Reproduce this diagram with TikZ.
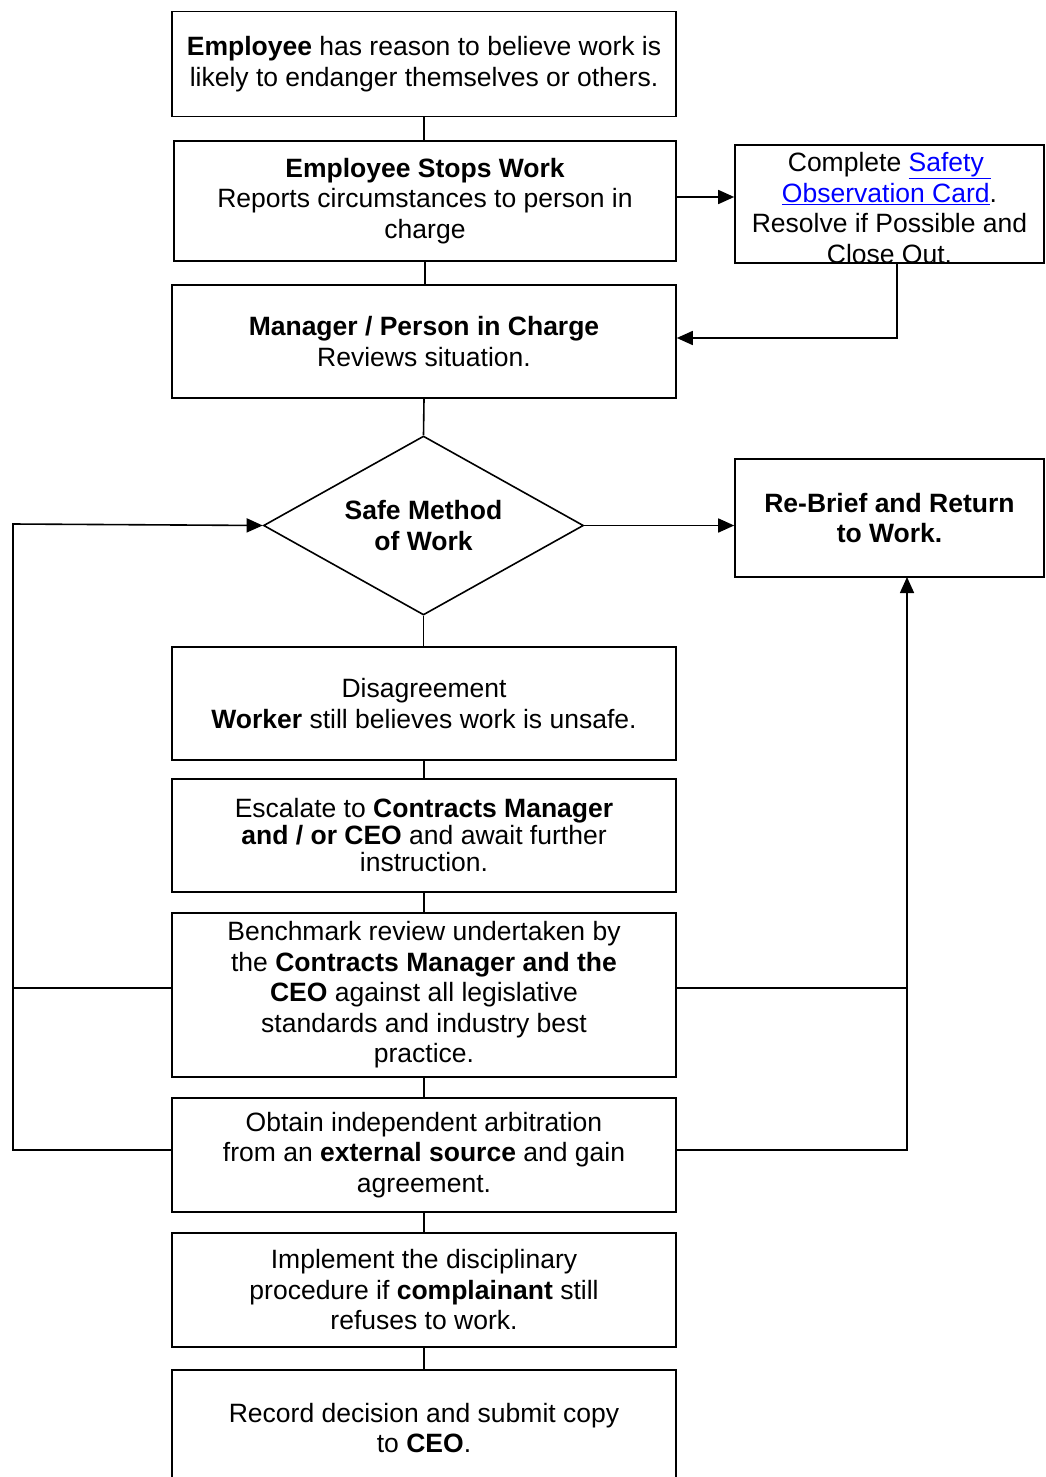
\documentclass[tikz,border=0pt]{standalone}
\usepackage{fontspec}
\setmainfont{Liberation Sans}
\usetikzlibrary{shapes.geometric,arrows.meta}
\definecolor{linkblue}{RGB}{0,0,255}
\newcommand\fs{\fontsize{26.5}{30.5}\selectfont}
\newcommand\lnk[1]{\textcolor{linkblue}{\underline{#1}}}
\begin{document}
\begin{tikzpicture}[x=1pt,y=-1pt,
  box/.style={draw, line width=1.6pt, minimum width=504pt, inner sep=0pt, align=center, font=\fs},
  ln/.style={line width=1.6pt},
  arr/.style={line width=1.6pt, -{Triangle[length=16pt,width=14pt]}}]
\clip (0,0) rectangle (1045,1477);
\fill[white] (0,0) rectangle (1045,1477);

\node[box, minimum height=105pt] (top) at (424,64)
  {\textbf{Employee} has reason to believe work is\\likely to endanger themselves or others.};
\node[box, minimum width=502pt, minimum height=120pt] (stops) at (425,201)
  {\textbf{Employee Stops Work}\\Reports circumstances to person in\\charge};
\node[box, minimum width=309pt, minimum height=118pt] (soc) at (889.5,204) {};
\node[align=center, font=\fs, inner sep=0pt] (soct) at (889.5,208)
  {Complete \lnk{Safety\ }\\\lnk{Observation Card}.\\Resolve if Possible and\\Close Out.};
\node[box, minimum height=113pt] (mgr) at (424,341.5)
  {\textbf{Manager / Person in Charge}\\Reviews situation.};
\node[draw, line width=1.6pt, diamond, aspect=1.79, minimum width=320pt, minimum height=179pt,
  inner sep=0pt, align=center, font=\fs\bfseries] (dia) at (423.5,525.5)
  {Safe Method\\of Work};
\node[box, minimum width=309pt, minimum height=118pt, font=\fs\bfseries] (reb) at (889.5,518)
  {Re-Brief and Return\\to Work.};
\node[box, minimum height=113pt] (dis) at (424,703.5)
  {\rule{0pt}{10pt}Disagreement\\\textbf{Worker} still believes work is unsafe.};
\node[box, minimum height=113pt, font=\fontsize{26.5}{27}\selectfont] (esc) at (424,835.5)
  {Escalate to \textbf{Contracts Manager}\\\textbf{and / or CEO} and await further\\instruction.};
\node[box, minimum height=164pt] (ben) at (424,995)
  {Benchmark review undertaken by\\the \textbf{Contracts Manager and the}\\\textbf{CEO} against all legislative\\standards and industry best\\practice.};
\node[box, minimum height=114pt] (obt) at (424,1155)
  {Obtain independent arbitration\\from an \textbf{external source} and gain\\agreement.};
\node[box, minimum height=114pt] (imp) at (424,1290)
  {Implement the disciplinary\\procedure if \textbf{complainant} still\\refuses to work.};
\node[box, minimum height=116pt] (rec) at (424,1428)
  {Record decision and submit copy\\to \textbf{CEO}.};

\coordinate (lt) at (13,524);
\coordinate (lb) at (13,1150);
\coordinate (rx) at (907,577);

% vertical spine
\draw[ln] (top.south) -- (top.south |- stops.north);
\draw[ln] (stops.south) -- (stops.south |- mgr.north);
\draw[ln] (mgr.south) -- (dia.north);
\draw[ln] (dia.south) -- (dia.south |- dis.north);
\draw[ln] (dis.south) -- (esc.north);
\draw[ln] (esc.south) -- (ben.north);
\draw[ln] (ben.south) -- (obt.north);
\draw[ln] (obt.south) -- (imp.north);
\draw[ln] (imp.south) -- (rec.north);

% side arrows
\draw[arr] ([yshift=4pt]stops.east) -- ([yshift=4pt]soc.west |- stops.east);
\draw[arr] ([xshift=7.5pt]soc.south) |- ([yshift=3.5pt]mgr.east);
\draw[arr] (dia.east) -- (reb.west |- dia.east);

% left loop
\draw[arr] (obt.west |- lb) -- (lb) -- (lt) -- (dia.west);
\draw[ln] ([yshift=7pt]ben.west) -- ([yshift=7pt]ben.west -| lt);

% right loop
\draw[arr] (obt.east |- lb) -| (rx);
\draw[ln] ([yshift=7pt]ben.east) -- ([yshift=7pt]ben.east -| rx);
\end{tikzpicture}
\end{document}
